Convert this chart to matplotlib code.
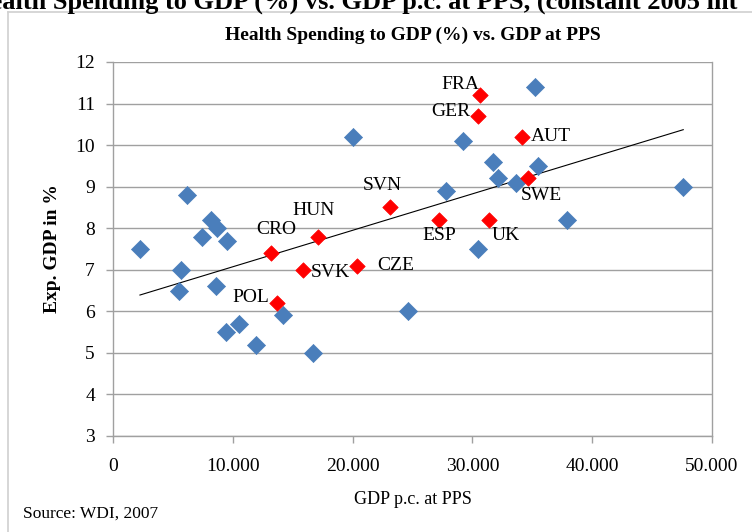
import numpy as np
import matplotlib
matplotlib.use("Agg")
import matplotlib.pyplot as plt
from matplotlib.ticker import FuncFormatter

# Other countries (blue)
blue_x = [2250, 6200, 5700, 5500, 8200, 8700, 7450, 9500, 8600, 9400, 10500, 11900,
          14200, 16700, 35200, 20000, 29200, 31700, 35500, 32100, 33600, 47600, 27800,
          37900, 30500, 24600]
blue_y = [7.5, 8.8, 7.0, 6.5, 8.2, 8.0, 7.8, 7.7, 6.6, 5.5, 5.7, 5.2,
          5.9, 5.0, 11.4, 10.2, 10.1, 9.6, 9.5, 9.2, 9.1, 9.0, 8.9,
          8.2, 7.5, 6.0]

# Labelled countries (red)
red_names = ["FRA", "GER", "AUT", "SWE", "SVN", "ESP", "UK", "CZE", "HUN", "CRO", "SVK", "POL"]
red_x = [30600, 30500, 34100, 34600, 23100, 27200, 31400, 20400, 17100, 13200, 15900, 13700]
red_y = [11.2, 10.7, 10.2, 9.2, 8.5, 8.2, 8.2, 7.1, 7.8, 7.4, 7.0, 6.2]

x_ticks = [0, 10000, 20000, 30000, 40000, 50000]
y_ticks = [3, 4, 5, 6, 7, 8, 9, 10, 11, 12]

# label offsets in points (dx, dy, ha)
label_pos = {
    "FRA": (0, 8, "right"),
    "GER": (-6, 3, "right"),
    "AUT": (7, 0, "left"),
    "SWE": (-5, -12, "left"),
    "SVN": (-5, 16, "center"),
    "ESP": (0, -11, "center"),
    "UK": (2, -11, "left"),
    "CZE": (14, 0, "left"),
    "HUN": (-3, 19, "center"),
    "CRO": (4, 17, "center"),
    "SVK": (5, -2, "left"),
    "POL": (-6, 4, "right"),
}

serif = "Liberation Serif"
fig = plt.figure(figsize=(7.52, 5.32), dpi=100)
W, H = 752, 532
ax = fig.add_axes([113 / W, 1 - 436 / H, (712 - 113) / W, (436 - 62) / H])

ax.scatter(blue_x, blue_y, marker="D", s=85, color="#4A7EBB", edgecolors="#4A7EBB",
           linewidths=0.5, zorder=3)
ax.scatter(red_x, red_y, marker="D", s=62, color="#FF0000", edgecolors="#FF0000",
           linewidths=0.5, zorder=4)

# linear trend over all points
all_x = np.array(blue_x + red_x, dtype=float)
all_y = np.array(blue_y + red_y, dtype=float)
m, b = np.polyfit(all_x, all_y, 1)
tx = np.array([all_x.min(), all_x.max()])
ax.plot(tx, m * tx + b, color="black", lw=0.8, zorder=2)

for n, x, y in zip(red_names, red_x, red_y):
    dx, dy, ha = label_pos[n]
    ax.annotate(n, (x, y), xytext=(dx, dy), textcoords="offset points", ha=ha, va="center",
                fontsize=14, family=serif, zorder=5)

ax.set_xlim(0, 50000)
ax.set_ylim(3, 12)
ax.set_xticks(x_ticks)
ax.set_yticks(y_ticks)
ax.xaxis.set_major_formatter(FuncFormatter(lambda v, p: "0" if v == 0 else f"{int(v):,}".replace(",", ".")))
ax.yaxis.grid(True, color="#A0A0A0", lw=1)
ax.set_axisbelow(True)
for s in ["left", "bottom", "right", "top"]:
    ax.spines[s].set_color("#A0A0A0")
    ax.spines[s].set_linewidth(1)
ax.spines["top"].set_visible(False)
ax.tick_params(axis="both", colors="#A0A0A0", length=5, width=1, direction="out",
               labelcolor="black", labelsize=14, pad=8)
ax.tick_params(axis="x", pad=11)
for lbl in ax.get_xticklabels() + ax.get_yticklabels():
    lbl.set_family(serif)

ax.set_xlabel("GDP p.c. at PPS", family=serif, fontsize=13, labelpad=11)
ax.set_ylabel("Exp. GDP in %", family=serif, fontsize=14, fontweight="bold", labelpad=10)
ax.set_title("Health Spending to GDP (%) vs. GDP at PPS", family=serif, fontsize=14,
             fontweight="bold", pad=16)

fig.text(23 / W, 1 - 514 / H, "Source: WDI, 2007", family=serif, fontsize=12.5,
         ha="left", va="center")
fig.text(-30 / W, 1 - 9 / H, "Health Spending to GDP (%) vs. GDP p.c. at PPS, (constant 2005 int",
         family=serif, fontsize=19, fontweight="bold", ha="left", va="baseline")

# chart-area border
fig.add_artist(plt.Line2D([8 / W, 8 / W], [0, 1 - 12 / H], transform=fig.transFigure,
                          color="#D0D0D0", lw=1.2))
fig.add_artist(plt.Line2D([8 / W, 1], [1 - 12 / H, 1 - 12 / H], transform=fig.transFigure,
                          color="#D0D0D0", lw=1.2))

fig.savefig("out.png", dpi=100)
